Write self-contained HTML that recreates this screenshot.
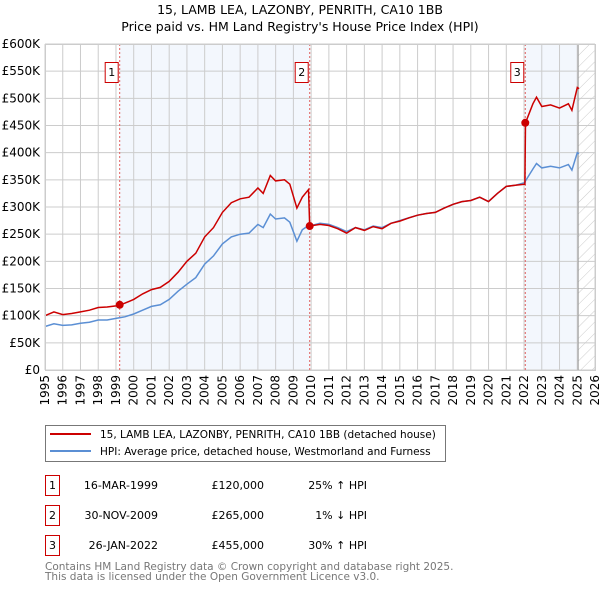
<!DOCTYPE html>
<html><head><meta charset="utf-8"><style>
body{margin:0;background:#fff;font-family:"DejaVu Sans","Liberation Sans",sans-serif;}
svg text{font-family:"DejaVu Sans","Liberation Sans",sans-serif;}
</style></head><body>
<svg id="chart" width="600" height="590" viewBox="0 0 600 590" xmlns="http://www.w3.org/2000/svg">
<defs><pattern id="hatch" width="8" height="8" patternUnits="userSpaceOnUse" patternTransform="rotate(45)"><line x1="0" y1="0" x2="0" y2="8" stroke="#ccc" stroke-width="1"/></pattern></defs>
<text x="300" y="14" text-anchor="middle" font-size="12.5">15, LAMB LEA, LAZONBY, PENRITH, CA10 1BB</text>
<text x="300" y="31" text-anchor="middle" font-size="12.5">Price paid vs. HM Land Registry's House Price Index (HPI)</text>
<g id="plot"></g>
<g id="legend">
<rect x="45.5" y="425.5" width="400" height="36" fill="#fff" stroke="#777"/>
<line x1="50" y1="434" x2="91" y2="434" stroke="#cc0000" stroke-width="2"/>
<text x="100" y="438" font-size="10.5">15, LAMB LEA, LAZONBY, PENRITH, CA10 1BB (detached house)</text>
<line x1="50" y1="451" x2="91" y2="451" stroke="#5b8fd4" stroke-width="2"/>
<text x="100" y="455" font-size="10.5">HPI: Average price, detached house, Westmorland and Furness</text>
</g>
<g id="table" font-size="11"></g>
<text x="45" y="570" font-size="10.5" fill="#777">Contains HM Land Registry data © Crown copyright and database right 2025.</text>
<text x="45" y="580" font-size="10.5" fill="#777">This data is licensed under the Open Government Licence v3.0.</text>
</svg>
<script>
const times=[1995,1995.5,1996,1996.5,1997,1997.5,1998,1998.5,1999,1999.2,1999.5,2000,2000.5,2001,2001.5,2002,2002.5,2003,2003.5,2004,2004.5,2005,2005.5,2006,2006.5,2007,2007.3,2007.7,2008,2008.5,2008.8,2009.2,2009.5,2009.85,2009.92,2010.5,2011,2011.5,2012,2012.5,2013,2013.5,2014,2014.5,2015,2015.5,2016,2016.5,2017,2017.5,2018,2018.5,2019,2019.5,2020,2020.5,2021,2021.5,2022.05,2022.08,2022.5,2022.7,2023,2023.5,2024,2024.5,2024.7,2025,2025.1];
const hpiValues=[80,85,82,83,86,88,92,92,95,96,98,103,110,117,120,130,145,158,170,195,210,232,245,250,252,268,262,287,278,280,272,237,258,266,265,270,268,262,255,262,258,265,262,270,275,280,285,288,290,298,305,310,312,318,310,325,338,340,345,348,370,380,372,375,372,378,368,400,398];
const priceValues=[100,107,102,104,107,110,115,116,118,120,123,130,140,148,152,163,180,200,215,245,262,290,308,315,318,335,325,358,348,350,342,298,318,332,265,268,266,260,252,262,257,264,260,270,274,280,285,288,290,298,305,310,312,318,310,325,338,340,342,455,490,502,485,488,482,490,478,520,518];
const sales=[{n:"1",t:1999.21,v:120,date:"16-MAR-1999",price:"£120,000",hpi:"25% ↑ HPI"},{n:"2",t:2009.92,v:265,date:"30-NOV-2009",price:"£265,000",hpi:"1% ↓ HPI"},{n:"3",t:2022.07,v:455,date:"26-JAN-2022",price:"£455,000",hpi:"30% ↑ HPI"}];
const yTicks=[0,50,100,150,200,250,300,350,400,450,500,550,600];
const yLabels=["£0","£50K","£100K","£150K","£200K","£250K","£300K","£350K","£400K","£450K","£500K","£550K","£600K"];
const xTicks=[1995,1996,1997,1998,1999,2000,2001,2002,2003,2004,2005,2006,2007,2008,2009,2010,2011,2012,2013,2014,2015,2016,2017,2018,2019,2020,2021,2022,2023,2024,2025,2026];
const X0=45,X1=595,Y0=370,Y1=44;
const xs=t=>X0+(t-1995)/(2026-1995)*(X1-X0);
const ys=v=>Y0-v/600*(Y0-Y1);
const NS="http://www.w3.org/2000/svg";
function mk(tag,attrs,parent){const e=document.createElementNS(NS,tag);for(const k in attrs)e.setAttribute(k,attrs[k]);parent.appendChild(e);return e;}
const plot=document.getElementById('plot');
let r=mk('rect',{x:xs(sales[0].t),y:Y1,width:xs(sales[1].t)-xs(sales[0].t),height:Y0-Y1,fill:'#eef3fc',opacity:0.7},plot);


r=mk('rect',{x:xs(sales[2].t),y:Y1,width:xs(2025.05)-xs(sales[2].t),height:Y0-Y1,fill:'#eef3fc',opacity:0.7},plot);


r=mk('rect',{x:xs(2025.05),y:Y1,width:X1-xs(2025.05),height:Y0-Y1,fill:'url(#hatch)'},plot);


xTicks.forEach(t=>{const l=mk('line',{x1:xs(t),x2:xs(t),y1:Y1,y2:Y0,stroke:'#ccc','stroke-width':1},plot);


const tx=mk('text',{x:0,y:0,'font-size':12,'text-anchor':'end',transform:`translate(${xs(t)+4},375) rotate(-90)`},plot);tx.textContent=t;

});
yTicks.forEach((v,i)=>{const l=mk('line',{x1:X0,x2:X1,y1:ys(v),y2:ys(v),stroke:'#ccc','stroke-width':1},plot);


const tx=mk('text',{x:40,y:ys(v)+4,'font-size':12,'text-anchor':'end'},plot);tx.textContent=yLabels[i];

});
let b=mk('line',{x1:xs(2025.05),x2:xs(2025.05),y1:Y1,y2:Y0,stroke:'#999','stroke-width':1},plot);


sales.forEach(s=>{const l=mk('line',{x1:xs(s.t),x2:xs(s.t),y1:Y1,y2:Y0,stroke:'#e06060','stroke-width':1,'stroke-dasharray':'2,2'},plot);

});
const pth=(vals)=>times.map((t,i)=>(i?'L':'M')+xs(t).toFixed(1)+','+ys(vals[i]).toFixed(1)).join('');
let p=mk('path',{d:pth(hpiValues),fill:'none',stroke:'#5b8fd4','stroke-width':1.5},plot);


p=mk('path',{d:pth(priceValues),fill:'none',stroke:'#cc0000','stroke-width':1.5},plot);


sales.forEach(s=>{const c=mk('circle',{cx:xs(s.t),cy:ys(s.v),r:4,fill:'#cc0000'},plot);


const g=mk('g',{},plot);


mk('rect',{x:xs(s.t)-14.5,y:62.5,width:13,height:20,fill:'#fff',stroke:'#cc0000'},g);
const tx=mk('text',{x:xs(s.t)-8,y:76,'font-size':11,'text-anchor':'middle'},g);tx.textContent=s.n;});
let fr=mk('rect',{x:X0+0.5,y:Y1+0.5,width:X1-X0,height:Y0-Y1,fill:'none',stroke:'#ccc'},plot);


const tb=document.getElementById('table');
sales.forEach((s,i)=>{const y=475+i*30;const g=mk('g',{},tb);


mk('rect',{x:45.5,y:y+0.5,width:14,height:20,fill:'#fff',stroke:'#cc0000'},g);
let t=mk('text',{x:52.5,y:y+14,'text-anchor':'middle'},g);t.textContent=s.n;
t=mk('text',{x:158,y:y+14,'text-anchor':'end'},g);t.textContent=s.date;
t=mk('text',{x:264,y:y+14,'text-anchor':'end'},g);t.textContent=s.price;
t=mk('text',{x:367,y:y+14,'text-anchor':'end'},g);t.textContent=s.hpi;});
</script>
</body></html>
